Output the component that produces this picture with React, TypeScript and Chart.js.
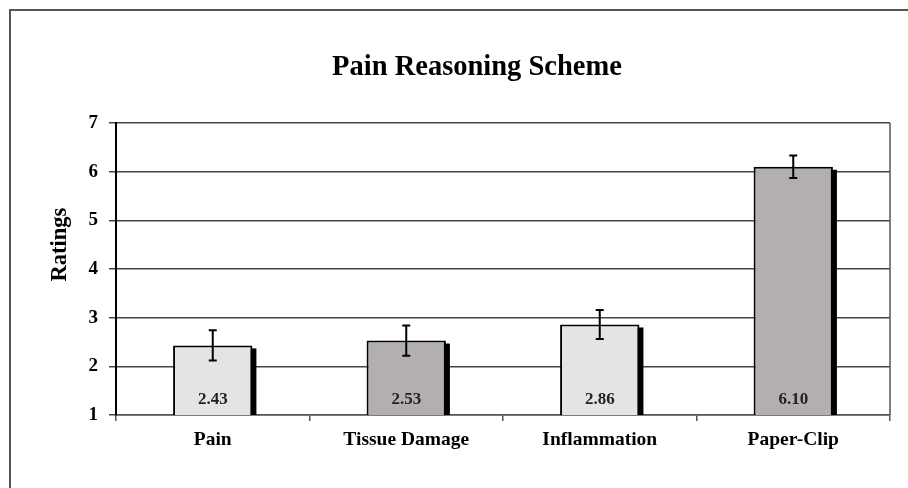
import React, { useEffect, useRef } from "react";
import { Chart, registerables } from "chart.js";

Chart.register(...registerables);

const categories = ["Pain", "Tissue Damage", "Inflammation", "Paper-Clip"];
const ratings = [2.43, 2.53, 2.86, 6.1];
const errors = [0.31, 0.31, 0.3, 0.23];
const barColors = ["#e4e4e4", "#b3afaf", "#e4e4e4", "#b3afaf"];
const yTicks = [1, 2, 3, 4, 5, 6, 7];
const titleText = "Pain Reasoning Scheme";
const yTitle = "Ratings";

const FONT = "'Liberation Serif', 'Times New Roman', serif";

const decorPlugin = {
  id: "decor",
  beforeDraw(chart: any) {
    const ctx = chart.ctx;
    ctx.save();
    ctx.fillStyle = "#ffffff";
    ctx.fillRect(0, 0, chart.width, chart.height);
    ctx.strokeStyle = "#555555";
    ctx.lineWidth = 2;
    ctx.beginPath();
    ctx.moveTo(10, chart.height + 2);
    ctx.lineTo(10, 10);
    ctx.lineTo(chart.width + 2, 10);
    ctx.stroke();
    ctx.restore();
  },
  beforeDatasetsDraw(chart: any) {
    const ctx = chart.ctx;
    const area = chart.chartArea;
    ctx.save();
    ctx.strokeStyle = "#555555";
    ctx.lineWidth = 1.5;
    ctx.beginPath();
    ctx.moveTo(area.right, area.top);
    ctx.lineTo(area.right, area.bottom);
    ctx.stroke();
    const meta = chart.getDatasetMeta(0);
    ctx.fillStyle = "#000000";
    meta.data.forEach((el: any) => {
      const p = el.getProps(["x", "y", "width"], true);
      const base = area.bottom;
      ctx.fillRect(p.x - p.width / 2 + 4, p.y + 3, p.width, base - p.y - 3);
    });
    ctx.restore();
  },
  afterDatasetsDraw(chart: any) {
    const ctx = chart.ctx;
    const area = chart.chartArea;
    const yScale = chart.scales.y;
    const meta = chart.getDatasetMeta(0);
    ctx.save();
    ctx.strokeStyle = "#000000";
    ctx.lineWidth = 2;
    meta.data.forEach((el: any, i: number) => {
      const p = el.getProps(["x", "y", "width"], true);
      const top = yScale.getPixelForValue(ratings[i] + errors[i]);
      const bot = yScale.getPixelForValue(ratings[i] - errors[i]);
      ctx.beginPath();
      ctx.moveTo(p.x, top);
      ctx.lineTo(p.x, bot);
      ctx.moveTo(p.x - 4, top);
      ctx.lineTo(p.x + 4, top);
      ctx.moveTo(p.x - 4, bot);
      ctx.lineTo(p.x + 4, bot);
      ctx.stroke();
      ctx.fillStyle = "#222222";
      ctx.font = `bold 17px ${FONT}`;
      ctx.textAlign = "center";
      ctx.textBaseline = "alphabetic";
      ctx.fillText(ratings[i].toFixed(2), p.x, area.bottom - 11);
    });
    ctx.restore();
  },
  afterDraw(chart: any) {
    const ctx = chart.ctx;
    const yScale = chart.scales.y;
    const cy = yScale.getPixelForValue(4.5);
    ctx.save();
    ctx.translate(60, cy);
    ctx.rotate(-Math.PI / 2);
    ctx.fillStyle = "#000000";
    ctx.font = `bold 22.5px ${FONT}`;
    ctx.textAlign = "center";
    ctx.textBaseline = "middle";
    ctx.fillText(yTitle, 0, 0);
    ctx.restore();
  },
};

export default function App() {
  const ref = useRef<HTMLCanvasElement>(null);
  useEffect(() => {
    document.body.style.margin = "0";
    const chart = new Chart(ref.current as HTMLCanvasElement, {
      type: "bar",
      data: {
        labels: categories,
        datasets: [
          {
            data: ratings,
            backgroundColor: barColors,
            borderColor: "#000000",
            borderWidth: 2,
            barPercentage: 0.41,
            categoryPercentage: 1,
          },
        ],
      },
      options: {
        animation: false,
        responsive: false,
        layout: { padding: { left: 64, right: 18, top: 0, bottom: 0 } },
        plugins: {
          legend: { display: false },
          tooltip: { enabled: false },
          title: {
            display: true,
            text: titleText,
            color: "#000000",
            font: { family: FONT, size: 28.5, weight: "bold" },
            padding: { top: 50.7, bottom: 38.1 },
          },
        },
        scales: {
          x: {
            offset: true,
            afterFit: (s: any) => {
              s.height = 73;
            },
            grid: {
              display: true,
              offset: true,
              drawOnChartArea: false,
              drawTicks: true,
              tickLength: 6,
              color: "#555555",
              lineWidth: 1.5,
            },
            border: { display: true, color: "#555555", width: 1.5 },
            ticks: {
              color: "#000000",
              padding: 7,
              font: { family: FONT, size: 19.5, weight: "bold" },
            },
          },
          y: {
            min: 1,
            max: 7,
            afterFit: (s: any) => {
              s.width = 52;
            },
            afterBuildTicks: (s: any) => {
              s.ticks = yTicks.map((v) => ({ value: v }));
            },
            grid: {
              color: "#444444",
              lineWidth: 1.5,
              drawTicks: true,
              tickLength: 7,
            },
            border: { display: true, color: "#000000", width: 2 },
            ticks: {
              color: "#000000",
              padding: 11,
              font: { family: FONT, size: 19, weight: "bold" },
            },
          },
        },
      },
      plugins: [decorPlugin],
    });
    return () => chart.destroy();
  }, []);
  return (
    <div style={{ width: 908, height: 488 }}>
      <canvas ref={ref} width={908} height={488} style={{ display: "block" }} />
    </div>
  );
}
